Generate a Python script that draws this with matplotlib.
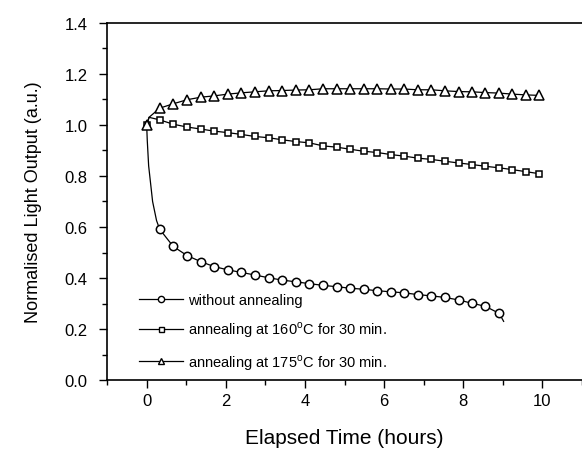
import matplotlib
matplotlib.use("Agg")
import matplotlib.pyplot as plt
from matplotlib.ticker import MultipleLocator

plt.rcParams["font.family"] = ["Liberation Sans", "DejaVu Sans"]
plt.rcParams["mathtext.fontset"] = "custom"
plt.rcParams["mathtext.rm"] = "Liberation Sans"

# marker times (hours), shared by all series
t_marks = [0.33, 0.67, 1.02, 1.37, 1.70, 2.05, 2.39, 2.73, 3.08, 3.42, 3.77, 4.11,
           4.46, 4.80, 5.14, 5.48, 5.83, 6.17, 6.50, 6.85, 7.19, 7.53, 7.88, 8.22,
           8.56, 8.91, 9.24, 9.58, 9.92]

# without annealing
no_ann = [0.591, 0.524, 0.488, 0.464, 0.445, 0.432, 0.422, 0.412, 0.401, 0.392, 0.385, 0.378,
          0.371, 0.366, 0.360, 0.356, 0.350, 0.346, 0.342, 0.335, 0.330, 0.324, 0.314, 0.301,
          0.289, 0.261]
no_ann_start_t = [0.0, 0.015, 0.05, 0.15, 0.25]
no_ann_start_y = [1.0, 0.94, 0.84, 0.70, 0.625]
no_ann_end_t = [9.02]
no_ann_end_y = [0.23]

# annealing at 160 C
ann160 = [1.020, 1.003, 0.992, 0.984, 0.976, 0.970, 0.963, 0.955, 0.950, 0.942, 0.935, 0.930,
          0.918, 0.913, 0.905, 0.897, 0.892, 0.884, 0.878, 0.870, 0.865, 0.858, 0.851, 0.845,
          0.838, 0.832, 0.825, 0.817, 0.809]
ann160_start_t = [0.0, 0.06]
ann160_start_y = [1.0, 1.03]

# annealing at 175 C
ann175 = [1.066, 1.083, 1.099, 1.109, 1.114, 1.121, 1.126, 1.130, 1.134, 1.135, 1.137, 1.138,
          1.142, 1.142, 1.142, 1.142, 1.142, 1.141, 1.141, 1.138, 1.138, 1.134, 1.131, 1.130,
          1.127, 1.125, 1.121, 1.118, 1.116]
ann175_start_t = [0.0, 0.06]
ann175_start_y = [1.0, 1.03]

labels = ["without annealing",
          r"annealing at 160$^\mathrm{o}$C for 30 min.",
          r"annealing at 175$^\mathrm{o}$C for 30 min."]

fig = plt.figure(figsize=(5.82, 4.52), dpi=100)
ax = fig.add_axes([0.184, 0.157, 0.816, 0.79])

mk = dict(color="black", markerfacecolor="white", markeredgecolor="black")

# lines (with start/end trace points)
n = len(no_ann)
ax.plot(no_ann_start_t + t_marks[:n] + no_ann_end_t, no_ann_start_y + no_ann + no_ann_end_y,
        "-", color="black", lw=0.9)
ax.plot(ann160_start_t + t_marks, ann160_start_y + ann160, "-", color="black", lw=0.9)
ax.plot(ann175_start_t + t_marks, ann175_start_y + ann175, "-", color="black", lw=0.9)

# markers
ax.plot(t_marks[:n], no_ann, "o", ms=6, mew=1.1, **mk)
ax.plot([0] + t_marks, [1.0] + ann160, "s", ms=4.6, mew=1.1, **mk)
ax.plot([0] + t_marks, [1.0] + ann175, "^", ms=6.5, mew=1.1, **mk)

# legend handles
h1, = ax.plot([], [], "-o", lw=0.9, ms=4.5, mew=1, **mk)
h2, = ax.plot([], [], "-s", lw=0.9, ms=3.6, mew=1, **mk)
h3, = ax.plot([], [], "-^", lw=0.9, ms=5, mew=1, **mk)
ax.legend([h1, h2, h3], labels, loc="lower left", bbox_to_anchor=(0.04, -0.014),
          frameon=False, fontsize=10.5, handlelength=3.0, handletextpad=0.35,
          labelspacing=0.88)

ax.set_xlim(-1, 11)
ax.set_ylim(0, 1.4)
ax.xaxis.set_major_locator(MultipleLocator(2))
ax.xaxis.set_minor_locator(MultipleLocator(1))
ax.yaxis.set_major_locator(MultipleLocator(0.2))
ax.yaxis.set_minor_locator(MultipleLocator(0.1))
ax.yaxis.set_major_formatter(plt.FormatStrFormatter("%.1f"))
ax.tick_params(which="major", direction="out", length=6, width=1, labelsize=12)
ax.tick_params(axis="y", which="major", pad=8)
ax.tick_params(which="minor", direction="out", length=3.5, width=1)
ax.spines["right"].set_visible(False)
for s in ["left", "bottom", "top"]:
    ax.spines[s].set_linewidth(1.2)

ax.set_xlabel("Elapsed Time (hours)", fontsize=15, labelpad=14)
ax.set_ylabel("Normalised Light Output (a.u.)", fontsize=13, labelpad=16)

fig.savefig("out.png", dpi=100)
